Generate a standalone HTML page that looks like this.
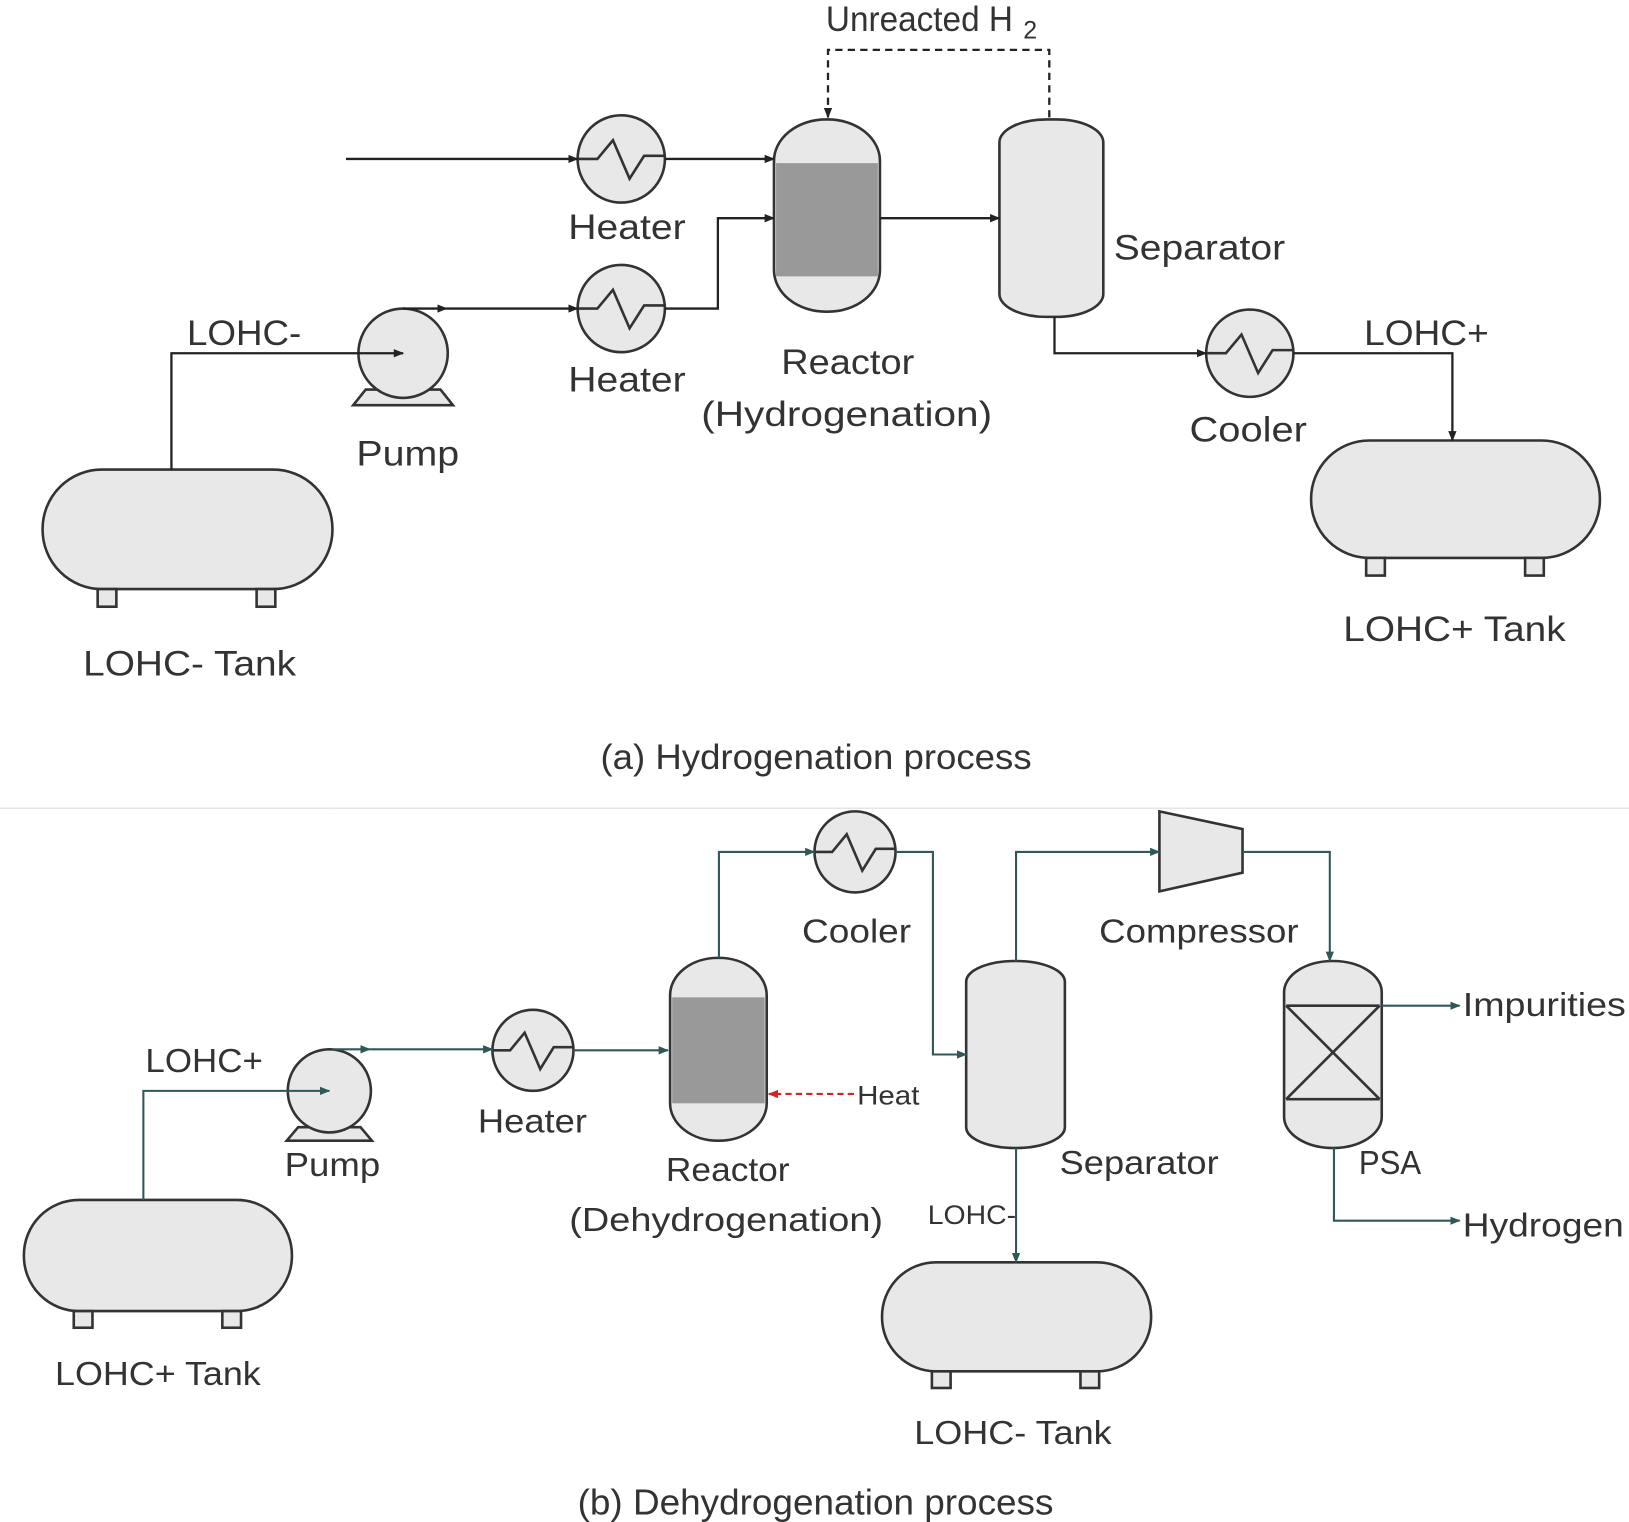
<!DOCTYPE html>
<html><head><meta charset="utf-8"><style>
html,body{margin:0;padding:0;background:#fff;}
svg{display:block}
text{font-family:"Liberation Sans","NanumGothic",sans-serif;fill:#333;}
</style></head><body>
<svg width="1629" height="1522" viewBox="0 0 1568 1465" preserveAspectRatio="none" xmlns="http://www.w3.org/2000/svg">
<defs>
<marker id="a" markerWidth="10" markerHeight="10" refX="9" refY="5" orient="auto" markerUnits="userSpaceOnUse"><path d="M0,1 L10,5 L0,9z" fill="#222"/></marker>
<marker id="t" markerWidth="10" markerHeight="10" refX="9" refY="5" orient="auto" markerUnits="userSpaceOnUse"><path d="M0,1 L10,5 L0,9z" fill="#2f5858"/></marker>
<marker id="r" markerWidth="10" markerHeight="10" refX="9" refY="5" orient="auto" markerUnits="userSpaceOnUse"><path d="M0,1 L10,5 L0,9z" fill="#e02020"/></marker>
</defs>
<g fill="#e8e8e8" stroke="#333" stroke-width="2.5">
<rect x="41" y="452" width="279" height="115" rx="57"/>
<rect x="94" y="567" width="18" height="17"/><rect x="247" y="567" width="18" height="17"/>
<rect x="1262" y="424" width="278" height="113" rx="56"/>
<rect x="1315" y="537" width="18" height="17"/><rect x="1468" y="537" width="18" height="17"/>
<path d="M352,375 L340,390 L436,390 L424,375z"/>
<circle cx="388" cy="340" r="43"/>
<circle cx="598" cy="153" r="42"/><circle cx="598" cy="297" r="42"/>
<circle cx="1203" cy="340" r="42"/>
<rect x="745" y="115" width="102" height="185" rx="50" ry="40"/>
<rect x="962" y="115" width="100" height="190" rx="45" ry="22"/>
<rect x="23" y="1155" width="258" height="107" rx="53"/>
<rect x="71" y="1262" width="18" height="16"/><rect x="214" y="1262" width="18" height="16"/>
<rect x="849" y="1215" width="259" height="105" rx="52"/>
<rect x="897" y="1320" width="18" height="16"/><rect x="1040" y="1320" width="18" height="16"/>
<path d="M287,1085 L276,1098 L358,1098 L347,1085z"/>
<circle cx="317" cy="1050" r="40"/>
<circle cx="513" cy="1011" r="39"/>
<circle cx="823" cy="820" r="39"/>
<rect x="645" y="922" width="93" height="176" rx="46" ry="36"/>
<rect x="930" y="925" width="95" height="180" rx="47" ry="20"/>
<rect x="1236" y="925" width="94" height="180" rx="47" ry="30"/>
<path d="M1116,781 L1196,798 L1196,840 L1116,858z"/>
</g>
<g fill="#999" stroke="none">
<rect x="747" y="157" width="98" height="109"/>
<rect x="647" y="960" width="89" height="102"/>
</g>
<g fill="none" stroke="#333" stroke-width="2.5">
<path d="M556,153 L575,153 L590,135 L606,172 L620,150 L640,150"/>
<path d="M556,297 L575,297 L590,279 L606,316 L620,294 L640,294"/>
<path d="M1161,340 L1180,340 L1195,322 L1211,359 L1225,337 L1245,337"/>
<path d="M474,1011 L491,1011 L505,994 L520,1029 L533,1008 L552,1008"/>
<path d="M784,820 L801,820 L815,803 L830,838 L843,817 L862,817"/>
<path d="M1238,968 L1328,968 M1238,1058 L1328,1058 M1238,968 L1328,1058 M1328,968 L1238,1058"/>
</g>
<g fill="none" stroke="#222" stroke-width="2.2">
<path d="M333,153 L556,153" marker-end="url(#a)"/>
<path d="M640,153 L745,153" marker-end="url(#a)"/>
<path d="M388,297 L430,297" marker-end="url(#a)"/>
<path d="M430,297 L556,297" marker-end="url(#a)"/>
<path d="M640,297 L691,297 L691,210 L745,210" marker-end="url(#a)"/>
<path d="M847,210 L962,210" marker-end="url(#a)"/>
<path d="M1010,113 L1010,48 L797,48 L797,113" stroke-dasharray="7,5" marker-end="url(#a)"/>
<path d="M1015,305 L1015,340 L1161,340" marker-end="url(#a)"/>
<path d="M1245,340 L1398,340 L1398,424" marker-end="url(#a)"/>
<path d="M165,452 L165,340 L388,340" marker-end="url(#a)"/>
</g>
<g fill="none" stroke="#2f5858" stroke-width="2">
<path d="M138,1155 L138,1050 L317,1050" marker-end="url(#t)"/>
<path d="M320,1010 L356,1010" marker-end="url(#t)"/>
<path d="M356,1010 L474,1010" marker-end="url(#t)"/>
<path d="M552,1011 L643,1011" marker-end="url(#t)"/>
<path d="M692,922 L692,820 L784,820" marker-end="url(#t)"/>
<path d="M862,820 L898,820 L898,1015 L930,1015" marker-end="url(#t)"/>
<path d="M978,925 L978,820 L1116,820" marker-end="url(#t)"/>
<path d="M1196,820 L1280,820 L1280,925" marker-end="url(#t)"/>
<path d="M1330,968 L1405,968" marker-end="url(#t)"/>
<path d="M1284,1105 L1284,1175 L1405,1175" marker-end="url(#t)"/>
<path d="M978,1105 L978,1215" marker-end="url(#t)"/>
</g>
<path d="M822,1053 L740,1053" stroke="#e02020" stroke-width="2" stroke-dasharray="6,4" fill="none" marker-end="url(#r)"/>
<line x1="0" y1="778" x2="316" y2="778" stroke="#e6e6e6" stroke-width="1.5"/>
<line x1="316" y1="778" x2="1568" y2="778" stroke="#e6e6e6" stroke-width="1.5"/>
<g font-size="34" lengthAdjust="spacingAndGlyphs">
<text x="795" y="30" textLength="180" lengthAdjust="spacingAndGlyphs">Unreacted H</text>
<text x="985" y="37" font-size="24">2</text>
<text x="547" y="230" textLength="113" lengthAdjust="spacingAndGlyphs">Heater</text>
<text x="547" y="377" textLength="113" lengthAdjust="spacingAndGlyphs">Heater</text>
<text x="180" y="332" textLength="110" lengthAdjust="spacingAndGlyphs">LOHC-</text>
<text x="343" y="448" textLength="99" lengthAdjust="spacingAndGlyphs">Pump</text>
<text x="752" y="360" textLength="128" lengthAdjust="spacingAndGlyphs">Reactor</text>
<text x="675" y="410" textLength="280" lengthAdjust="spacingAndGlyphs">(Hydrogenation)</text>
<text x="1072" y="250" textLength="165" lengthAdjust="spacingAndGlyphs">Separator</text>
<text x="1145" y="425" textLength="113" lengthAdjust="spacingAndGlyphs">Cooler</text>
<text x="1313" y="332" textLength="120" lengthAdjust="spacingAndGlyphs">LOHC+</text>
<text x="80" y="650" textLength="205" lengthAdjust="spacingAndGlyphs">LOHC- Tank</text>
<text x="1293" y="617" textLength="214" lengthAdjust="spacingAndGlyphs">LOHC+ Tank</text>
<text x="578" y="740" textLength="415" lengthAdjust="spacingAndGlyphs" fill="#222">(a) Hydrogenation process</text>
</g>
<g font-size="32">
<text x="140" y="1032" textLength="113" lengthAdjust="spacingAndGlyphs">LOHC+</text>
<text x="274" y="1132" textLength="92" lengthAdjust="spacingAndGlyphs">Pump</text>
<text x="460" y="1090" textLength="105" lengthAdjust="spacingAndGlyphs">Heater</text>
<text x="53" y="1333" textLength="198" lengthAdjust="spacingAndGlyphs">LOHC+ Tank</text>
<text x="641" y="1137" textLength="119" lengthAdjust="spacingAndGlyphs">Reactor</text>
<text x="548" y="1185" textLength="302" lengthAdjust="spacingAndGlyphs">(Dehydrogenation)</text>
<text x="772" y="907" textLength="105" lengthAdjust="spacingAndGlyphs">Cooler</text>
<text x="1058" y="907" textLength="192" lengthAdjust="spacingAndGlyphs">Compressor</text>
<text x="1020" y="1130" textLength="153" lengthAdjust="spacingAndGlyphs">Separator</text>
<text x="1308" y="1130" textLength="60" lengthAdjust="spacingAndGlyphs">PSA</text>
<text x="1408" y="978" textLength="157" lengthAdjust="spacingAndGlyphs">Impurities</text>
<text x="1408" y="1190" textLength="155" lengthAdjust="spacingAndGlyphs">Hydrogen</text>
<text x="880" y="1390" textLength="190" lengthAdjust="spacingAndGlyphs">LOHC- Tank</text>
<text x="556" y="1458" font-size="35" textLength="458" lengthAdjust="spacingAndGlyphs" fill="#222">(b) Dehydrogenation process</text>
</g>
<text x="825" y="1063" font-size="26" fill="#444" textLength="60" lengthAdjust="spacingAndGlyphs">Heat</text>
<text x="893" y="1178" font-size="26" fill="#555" textLength="85" lengthAdjust="spacingAndGlyphs">LOHC-</text>
</svg>
</body></html>
